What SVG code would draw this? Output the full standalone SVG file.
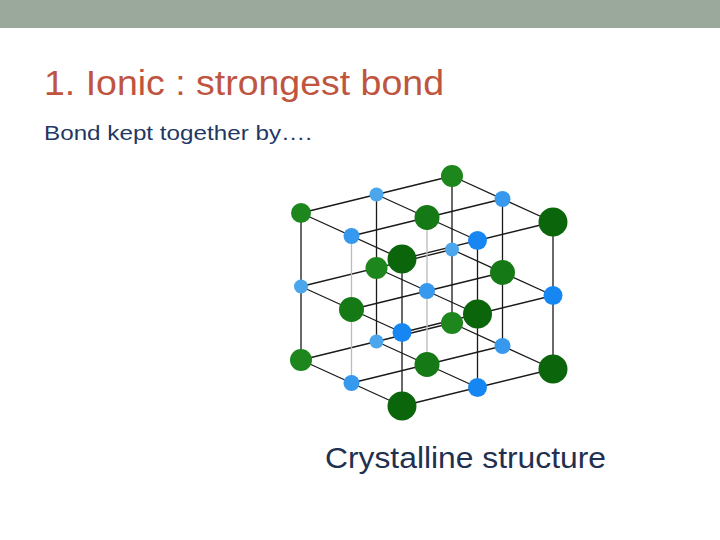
<svg xmlns="http://www.w3.org/2000/svg" width="720" height="540" viewBox="0 0 720 540">
<style>
.t{font-family:"Liberation Sans",Arial,sans-serif}
.e{stroke:#1a1a1a;stroke-width:1.3;fill:none}
.g{stroke:#bbbbbb;stroke-width:1.3;fill:none}
.g0{fill:#1d871d}.g1{fill:#157a15}.g2{fill:#0b660b}
.b0{fill:#4ca6ec}.b1{fill:#3799ee}.b2{fill:#1687f2}
</style>
<rect width="720" height="540" fill="#fff"/>
<rect width="720" height="28" fill="#9ba89c"/>
<text class="t" x="44" y="95" font-size="35" fill="#c0553f" textLength="400" lengthAdjust="spacingAndGlyphs">1. Ionic : strongest bond</text>
<text class="t" x="44" y="140" font-size="21" fill="#1f3864" textLength="268" lengthAdjust="spacingAndGlyphs">Bond kept together by….</text>
<g id="connectors">
<path class="e" d="M301,213L452,176M301,286.5L452,249.5M301,360L452,323M351.5,236L502.5,199M351.5,309.5L502.5,272.5M351.5,383L502.5,346M402,259L553,222M402,332.5L553,295.5M402,406L553,369"/>
<path class="e" d="M301,213L402,259M301,286.5L402,332.5M301,360L402,406M376.5,194.5L477.5,240.5M376.5,268L477.5,314M376.5,341.5L477.5,387.5M452,176L553,222M452,249.5L553,295.5M452,323L553,369"/>
<path class="e" d="M301,213V360M376.5,194.5V341.5M452,176V323M502.5,199V346M402,259V406M477.5,240.5V387.5M553,222V369"/>
<path class="g" d="M351.5,236V383M427,217.5V364.5"/>
</g>
<g id="back">
<circle class="g0" cx="301" cy="213" r="10"/><circle class="b0" cx="376.5" cy="194.5" r="7"/><circle class="g0" cx="452" cy="176" r="11"/>
<circle class="b0" cx="301" cy="286.5" r="7"/><circle class="g0" cx="376.5" cy="268" r="11"/><circle class="b0" cx="452" cy="249.5" r="7"/>
<circle class="g0" cx="301" cy="360" r="11"/><circle class="b0" cx="376.5" cy="341.5" r="7"/><circle class="g0" cx="452" cy="323" r="11"/>
</g>
<g id="middle">
<circle class="b1" cx="351.5" cy="236" r="8"/><circle class="g1" cx="427" cy="217.5" r="12.5"/><circle class="b1" cx="502.5" cy="199" r="8"/>
<circle class="g1" cx="351.5" cy="309.5" r="12.5"/><circle class="b1" cx="427" cy="291" r="8"/><circle class="g1" cx="502.5" cy="272.5" r="12.5"/>
<circle class="b1" cx="351.5" cy="383" r="8"/><circle class="g1" cx="427" cy="364.5" r="12.5"/><circle class="b1" cx="502.5" cy="346" r="8"/>
</g>
<g id="front">
<circle class="g2" cx="402" cy="259" r="14.5"/><circle class="b2" cx="477.5" cy="240.5" r="9.5"/><circle class="g2" cx="553" cy="222" r="14.5"/>
<circle class="b2" cx="402" cy="332.5" r="9.5"/><circle class="g2" cx="477.5" cy="314" r="14.5"/><circle class="b2" cx="553" cy="295.5" r="9.5"/>
<circle class="g2" cx="402" cy="406" r="14.5"/><circle class="b2" cx="477.5" cy="387.5" r="9.5"/><circle class="g2" cx="553" cy="369" r="14.5"/>
</g>
<text class="t" x="325" y="468" font-size="30" fill="#1f3050" textLength="281" lengthAdjust="spacingAndGlyphs">Crystalline structure</text>
</svg>
